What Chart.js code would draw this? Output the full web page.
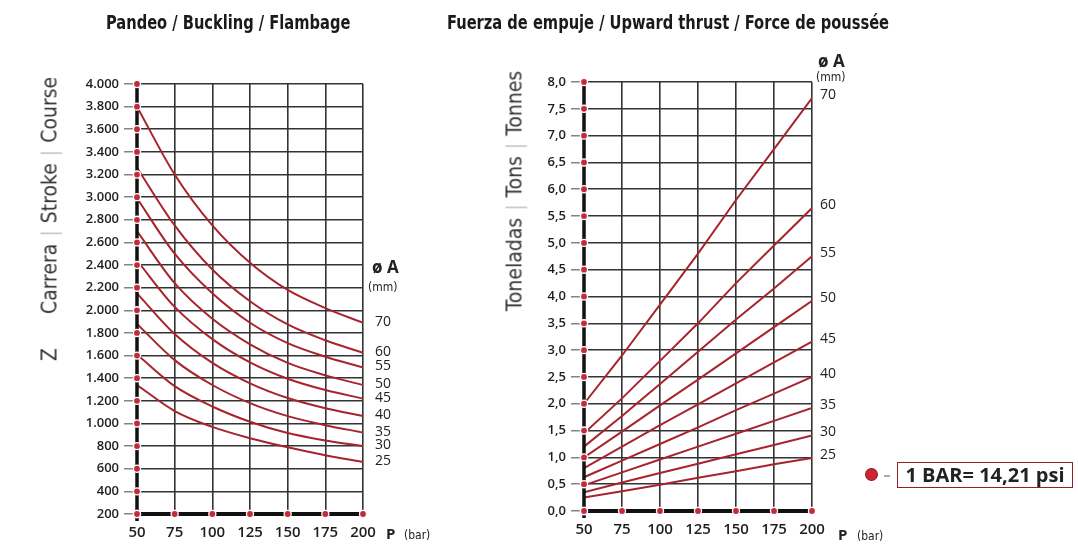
<!DOCTYPE html>
<html lang="es">
<head>
<meta charset="UTF-8" />
<title>Pandeo / Fuerza de empuje</title>
<script src="https://cdn.jsdelivr.net/npm/chart.js"></script>
<style>
  body { margin: 0; background: #fff; color: #222; font-family: 'Open Sans', sans-serif; }
  .page { position: relative; width: 1078px; height: 550px; overflow: hidden; }
  canvas { position: absolute; left: 0; top: 0; }
  .txt { position: absolute; white-space: nowrap; line-height: 1; }
  .title { top: 12px; font-family: 'Liberation Sans Narrow', 'DejaVu Sans Condensed', sans-serif; font-weight: bold; font-size: 20px; color: #1a1a1a; transform: scaleX(0.815); transform-origin: left center; }
  .vtitle { font-family: 'Liberation Sans Narrow', 'DejaVu Sans Condensed', sans-serif; font-size: 21px; color: #333; transform: translate(-50%, -50%) rotate(-90deg); }
  .vtitle .sep { color: #c4c4c4; margin: 0 7px; }
  .dia { font-weight: 700; font-size: 17px; }
  .mm { font-family: 'Liberation Sans Narrow', 'DejaVu Sans Condensed', sans-serif; font-size: 12px; }
  .p { font-weight: 700; font-size: 15px; }
  .bar { font-family: 'Liberation Sans Narrow', 'DejaVu Sans Condensed', sans-serif; font-size: 12px; }
  .psi { left: 897px; top: 462px; width: 174px; height: 24px; border: 1.5px solid #9b1c22; font-weight: 700; font-size: 20px; line-height: 24px; text-align: center; color: #222; }
  .reddot { position: absolute; left: 866px; top: 469px; width: 11px; height: 11px; border-radius: 50%; background: #cc2530; box-shadow: 0 0 0 1px #8b1a1f; }
  .dash { position: absolute; left: 884px; top: 475px; width: 6px; height: 1.5px; background: #aaa; }
</style>
</head>
<body>
<div class="page">
  <canvas id="buckling" width="1078" height="550"></canvas>
  <canvas id="thrust" width="1078" height="550"></canvas>

  <div class="txt title" style="left:106px">Pandeo / Buckling / Flambage</div>
  <div class="txt title" style="left:447px">Fuerza de empuje / Upward thrust / Force de poussée</div>

  <div class="txt vtitle" style="left:50px; top:219px">Z<span style="margin-left:34px">Carrera</span><span class="sep">|</span>Stroke<span class="sep">|</span>Course</div>
  <div class="txt vtitle" style="left:515px; top:191px">Toneladas<span class="sep">|</span>Tons<span class="sep">|</span>Tonnes</div>

  <div class="txt dia" style="left:372px; top:258px">ø A</div>
  <div class="txt mm" style="left:368px; top:281px">(mm)</div>
  <div class="txt dia" style="left:818px; top:52px">ø A</div>
  <div class="txt mm" style="left:816px; top:71px">(mm)</div>

  <div class="txt p" style="left:386px; top:526px">P</div>
  <div class="txt bar" style="left:404px; top:529px">(bar)</div>
  <div class="txt p" style="left:838px; top:527px">P</div>
  <div class="txt bar" style="left:857px; top:530px">(bar)</div>

  <div class="reddot"></div>
  <div class="dash"></div>
  <div class="txt psi">1 BAR= 14,21 psi</div>
</div>

<script>
// pressure (bar) on the x axis of both charts
const pressure = [50, 75, 100, 125, 150, 175, 200];
// piston rod diameters (mm)
const diameters = [70, 60, 55, 50, 45, 40, 35, 30, 25];

// Pandeo: max stroke Z (mm) per diameter
const stroke70 = [3800, 3200, 2750, 2420, 2180, 2020, 1890];
const stroke60 = [3260, 2750, 2360, 2080, 1875, 1735, 1625];
const stroke55 = [2990, 2500, 2150, 1890, 1710, 1590, 1495];
const stroke50 = [2700, 2240, 1925, 1700, 1535, 1425, 1340];
const stroke45 = [2440, 2030, 1745, 1540, 1395, 1295, 1220];
const stroke40 = [2150, 1790, 1535, 1355, 1225, 1135, 1065];
const stroke35 = [1880, 1560, 1340, 1180, 1065, 985, 920];
const stroke30 = [1610, 1330, 1150, 1015, 915, 850, 800];
const stroke25 = [1340, 1110, 970, 870, 790, 720, 660];

// Fuerza de empuje: tonnes per diameter
const thrust70 = [2.0, 2.9, 3.85, 4.8, 5.8, 6.75, 7.7];
const thrust60 = [1.45, 2.1, 2.8, 3.5, 4.25, 4.95, 5.65];
const thrust55 = [1.2, 1.77, 2.37, 2.97, 3.57, 4.15, 4.75];
const thrust50 = [1.0, 1.48, 1.97, 2.45, 2.94, 3.43, 3.92];
const thrust45 = [0.8, 1.2, 1.6, 1.99, 2.38, 2.77, 3.16];
const thrust40 = [0.63, 0.94, 1.25, 1.56, 1.88, 2.19, 2.5];
const thrust35 = [0.48, 0.72, 0.96, 1.2, 1.44, 1.68, 1.92];
const thrust30 = [0.35, 0.53, 0.71, 0.88, 1.06, 1.23, 1.41];
const thrust25 = [0.25, 0.37, 0.49, 0.62, 0.74, 0.87, 0.99];

const strokeSeries = [stroke70, stroke60, stroke55, stroke50, stroke45, stroke40, stroke35, stroke30, stroke25];
const thrustSeries = [thrust70, thrust60, thrust55, thrust50, thrust45, thrust40, thrust35, thrust30, thrust25];

const RED = '#a8232d';
const GRID = '#333';

function toPoints(vals) {
  return vals.map((v, i) => ({ x: pressure[i], y: v }));
}

// thick black axis with red dots + curve labels at line ends
const axisDeco = {
  id: 'axisDeco',
  afterDatasetsDraw(chart, args, opts) {
    const { ctx, chartArea: a, scales: { x, y } } = chart;
    ctx.save();
    ctx.strokeStyle = '#111';
    ctx.lineWidth = 3.5;
    ctx.beginPath();
    ctx.moveTo(a.left, a.top);
    ctx.lineTo(a.left, a.bottom + 7);
    ctx.stroke();
    ctx.lineWidth = 4;
    ctx.beginPath();
    ctx.moveTo(a.left, a.bottom);
    ctx.lineTo(a.right, a.bottom);
    ctx.stroke();

    const dot = (px, py) => {
      ctx.fillStyle = '#fff';
      ctx.beginPath(); ctx.arc(px, py, 4.2, 0, Math.PI * 2); ctx.fill();
      ctx.fillStyle = '#c42a3a';
      ctx.beginPath(); ctx.arc(px, py, 2.9, 0, Math.PI * 2); ctx.fill();
    };
    y.ticks.forEach(t => dot(a.left, y.getPixelForValue(t.value)));
    x.ticks.forEach(t => dot(x.getPixelForValue(t.value), a.bottom));

    ctx.fillStyle = '#222';
    ctx.font = '500 14px "Open Sans", sans-serif';
    ctx.textBaseline = 'middle';
    chart.data.datasets.forEach((ds, i) => {
      const pts = chart.getDatasetMeta(i).data;
      const last = pts[pts.length - 1];
      ctx.fillText(ds.label, opts.labelX, last.y + opts.labelDy);
    });
    ctx.restore();
  }
};

function makeChart(id, series, cfg) {
  return new Chart(document.getElementById(id), {
    type: 'line',
    data: {
      datasets: series.map((vals, i) => ({
        label: String(diameters[i]),
        data: toPoints(vals),
        borderColor: RED,
        borderWidth: 2,
        pointRadius: 0,
        fill: false,
        cubicInterpolationMode: cfg.curved ? 'monotone' : 'default',
        tension: 0
      }))
    },
    options: {
      responsive: false,
      animation: false,
      devicePixelRatio: 1,
      layout: { padding: cfg.padding },
      plugins: {
        legend: { display: false },
        tooltip: { enabled: false },
        axisDeco: { labelX: cfg.labelX, labelDy: cfg.labelDy }
      },
      scales: {
        x: {
          type: 'linear',
          min: 50,
          max: 200,
          afterFit(s) { s.height = cfg.xHeight; },
          afterBuildTicks(s) { s.ticks = pressure.map(v => ({ value: v })); },
          grid: { color: GRID, lineWidth: 1.6, drawTicks: false },
          border: { display: false },
          ticks: {
            padding: 10,
            color: '#1e1e1e',
            font: { family: 'Open Sans', size: 15, weight: '600' }
          }
        },
        y: {
          min: cfg.yMin,
          max: cfg.yMax,
          afterFit(s) { s.width = cfg.yWidth; },
          grid: { color: GRID, lineWidth: 1.6, tickLength: 13, tickColor: '#666', tickWidth: 1.2 },
          border: { display: false },
          ticks: {
            stepSize: cfg.yStep,
            autoSkip: false,
            padding: 5,
            color: '#1e1e1e',
            font: { family: 'Open Sans', size: 13, weight: '600' },
            callback: cfg.fmt
          }
        }
      }
    },
    plugins: [axisDeco]
  });
}

makeChart('buckling', strokeSeries, {
  curved: true,
  padding: { left: 0, right: 1078 - 363, top: 84, bottom: 0 },
  yWidth: 137,
  xHeight: 36,
  yMin: 200, yMax: 4000, yStep: 200,
  labelX: 375, labelDy: -1,
  fmt: v => v >= 1000 ? Math.floor(v / 1000) + '.' + String(v % 1000).padStart(3, '0') : String(v)
});

makeChart('thrust', thrustSeries, {
  curved: false,
  padding: { left: 514, right: 1078 - 812, top: 82, bottom: 0 },
  yWidth: 70,
  xHeight: 39,
  yMin: 0, yMax: 8, yStep: 0.5,
  labelX: 820, labelDy: -3,
  fmt: v => v.toFixed(1).replace('.', ',')
});
</script>
</body>
</html>
